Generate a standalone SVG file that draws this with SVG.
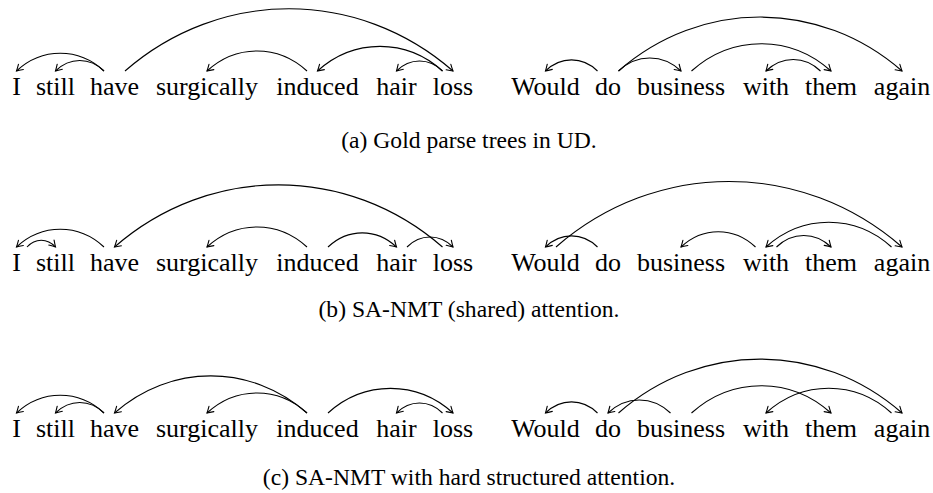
<svg xmlns="http://www.w3.org/2000/svg" width="933" height="493" viewBox="0 0 933 493">
<style>
.w{font-family:'Liberation Serif','Times New Roman',Times,'DejaVu Serif',serif;font-size:26px;fill:#000;text-anchor:middle}
.cap{font-family:'Liberation Serif','Times New Roman',Times,'DejaVu Serif',serif;font-size:23.6px;fill:#000;text-anchor:middle}
.arc{fill:none;stroke:#000;stroke-width:1.1;marker-end:url(#ah)}
</style>
<defs>
<marker id="ah" markerUnits="userSpaceOnUse" viewBox="-8 -5 10 10" refX="0" refY="0" markerWidth="10" markerHeight="10" orient="auto" overflow="visible">
<path d="M-6,-3.6 Q-2.2,-1.2 0,0 Q-2.2,1.2 -6,3.6" fill="none" stroke="#000" stroke-width="1.1" stroke-linecap="round"/>
</marker>
</defs>
<rect width="933" height="493" fill="#fff"/>

<g id="row-a">
<g id="a-words" font-family="Liberation Serif, serif">
<text class="w" x="16.5" y="95">I</text>
<text class="w" x="55.5" y="95">still</text>
<text class="w" x="114.5" y="95">have</text>
<text class="w" x="207" y="95">surgically</text>
<text class="w" x="317.5" y="95">induced</text>
<text class="w" x="396.5" y="95">hair</text>
<text class="w" x="453" y="95">loss</text>
<text class="w" x="545.5" y="95">Would</text>
<text class="w" x="608" y="95">do</text>
<text class="w" x="681" y="95">business</text>
<text class="w" x="766" y="95">with</text>
<text class="w" x="831" y="95">them</text>
<text class="w" x="902" y="95">again</text>
</g>
<g id="a-arcs">
<path class="arc" d="M104,71 C78.6,47.4 41.9,47.4 16.5,71"/>
<path class="arc" d="M104,71 C89.9,57 69.6,57 55.5,71"/>
<path class="arc" d="M125,71 C220.1,-11.9 357.9,-11.9 453,71"/>
<path class="arc" d="M307,71 C278,44.3 236,44.3 207,71"/>
<path class="arc" d="M442.5,71 C406.2,38.2 353.8,38.2 317.5,71"/>
<path class="arc" d="M442.5,71 C429.2,57.7 409.8,57.7 396.5,71"/>
<path class="arc" d="M597.5,71 C582.4,56.2 560.6,56.2 545.5,71"/>
<path class="arc" d="M618.5,71 C636.6,53.6 662.9,53.6 681,71"/>
<path class="arc" d="M618.5,71 C700.7,-0.9 819.8,-0.9 902,71"/>
<path class="arc" d="M691.5,71 C732,34.6 790.5,34.6 831,71"/>
<path class="arc" d="M820.5,71 C804.7,55.6 781.8,55.6 766,71"/>
</g>
<text id="cap-a" class="cap" x="469" y="148">(a) Gold parse trees in UD.</text>
</g>

<g id="row-b">
<g id="b-words">
<text class="w" x="16.5" y="271">I</text>
<text class="w" x="55.5" y="271">still</text>
<text class="w" x="114.5" y="271">have</text>
<text class="w" x="207" y="271">surgically</text>
<text class="w" x="317.5" y="271">induced</text>
<text class="w" x="396.5" y="271">hair</text>
<text class="w" x="453" y="271">loss</text>
<text class="w" x="545.5" y="271">Would</text>
<text class="w" x="608" y="271">do</text>
<text class="w" x="681" y="271">business</text>
<text class="w" x="766" y="271">with</text>
<text class="w" x="831" y="271">them</text>
<text class="w" x="902" y="271">again</text>
</g>
<g id="b-arcs">
<path class="arc" d="M104,247 C78.6,223.4 41.9,223.4 16.5,247"/>
<path class="arc" d="M27,247 C35.3,238 47.2,238 55.5,247"/>
<path class="arc" d="M442.5,247 C347.4,164.1 209.6,164.1 114.5,247"/>
<path class="arc" d="M307,247 C278,220.3 236,220.3 207,247"/>
<path class="arc" d="M328,247 C347.9,228.1 376.6,228.1 396.5,247"/>
<path class="arc" d="M407,247 C420.3,233.7 439.7,233.7 453,247"/>
<path class="arc" d="M597.5,247 C582.4,232.2 560.6,232.2 545.5,247"/>
<path class="arc" d="M556,247 C656.3,159.6 801.7,159.6 902,247"/>
<path class="arc" d="M755.5,247 C733.9,226.6 702.6,226.6 681,247"/>
<path class="arc" d="M891.5,247 C855.1,214 802.4,214 766,247"/>
<path class="arc" d="M776.5,247 C792.3,231.6 815.2,231.6 831,247"/>
</g>
<text id="cap-b" class="cap" x="469" y="317">(b) SA-NMT (shared) attention.</text>
</g>

<g id="row-c">
<g id="c-words">
<text class="w" x="16.5" y="437">I</text>
<text class="w" x="55.5" y="437">still</text>
<text class="w" x="114.5" y="437">have</text>
<text class="w" x="207" y="437">surgically</text>
<text class="w" x="317.5" y="437">induced</text>
<text class="w" x="396.5" y="437">hair</text>
<text class="w" x="453" y="437">loss</text>
<text class="w" x="545.5" y="437">Would</text>
<text class="w" x="608" y="437">do</text>
<text class="w" x="681" y="437">business</text>
<text class="w" x="766" y="437">with</text>
<text class="w" x="831" y="437">them</text>
<text class="w" x="902" y="437">again</text>
</g>
<g id="c-arcs">
<path class="arc" d="M104,413 C78.6,389.4 41.9,389.4 16.5,413"/>
<path class="arc" d="M104,413 C89.9,399 69.6,399 55.5,413"/>
<path class="arc" d="M307,413 C251.2,363.5 170.3,363.5 114.5,413"/>
<path class="arc" d="M307,413 C278,386.3 236,386.3 207,413"/>
<path class="arc" d="M328,413 C364.3,380.2 416.7,380.2 453,413"/>
<path class="arc" d="M442.5,413 C429.2,399.7 409.8,399.7 396.5,413"/>
<path class="arc" d="M597.5,413 C582.4,398.2 560.6,398.2 545.5,413"/>
<path class="arc" d="M670.5,413 C652.4,395.6 626.1,395.6 608,413"/>
<path class="arc" d="M618.5,413 C700.7,341.1 819.8,341.1 902,413"/>
<path class="arc" d="M691.5,413 C732,376.6 790.5,376.6 831,413"/>
<path class="arc" d="M891.5,413 C855.1,380 802.4,380 766,413"/>
</g>
<text id="cap-c" class="cap" x="469" y="485">(c) SA-NMT with hard structured attention.</text>
</g>
</svg>
